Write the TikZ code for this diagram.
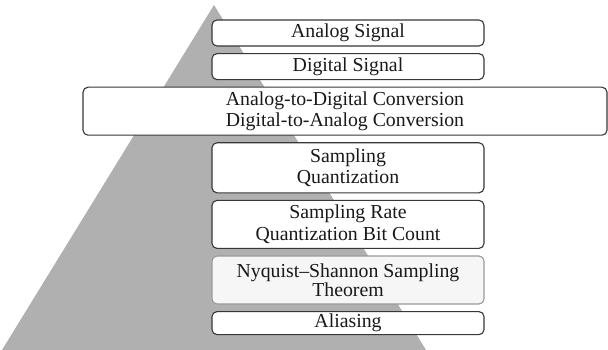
\documentclass[tikz,border=0pt]{standalone}
\usepackage{fontspec}
\setmainfont{Liberation Serif}
\usepackage{tikz}
\usetikzlibrary{positioning}
\definecolor{pyrgray}{RGB}{176,176,176}
\definecolor{edgegray}{RGB}{55,55,55}
\definecolor{softgray}{RGB}{246,246,246}
\tikzstyle{layer} = [rectangle, rounded corners=5pt, minimum width=272pt, inner sep=0pt, text centered, align=center, draw=edgegray, line width=1.1pt, fill=white, text=black!90, font=\fontsize{19.8}{21.5}\selectfont]
\tikzstyle{widelayer} = [layer, minimum width=524pt]
\tikzstyle{softlayer} = [layer, draw=black!40, fill=softgray, font=\fontsize{19.8}{18}\selectfont]

\begin{document}
\begin{tikzpicture}[x=1pt, y=-1pt, node distance=6.5pt]
\useasboundingbox (0,0) rectangle (608,350);

% pyramid behind the layers
\fill[pyrgray] (214,5) -- (426,350) -- (2,350) -- cycle;

\node (analog) [layer, minimum height=26pt] at (348,33) {Analog Signal};
\node (digital) [layer, minimum height=26pt, below=of analog] {Digital Signal};
\node (conv) [widelayer, minimum height=48pt, below=of digital, xshift=-3pt] {Analog-to-Digital Conversion\\Digital-to-Analog Conversion};
\node (sampq) [layer, minimum height=50pt, below=of conv, xshift=3pt] {Sampling\\Quantization};
\node (rate) [layer, minimum height=48pt, below=of sampq] {Sampling Rate\\Quantization Bit Count};
\node (nyquist) [softlayer, minimum height=48pt, below=of rate] {Nyquist–Shannon Sampling\\Theorem};
\node (alias) [layer, minimum height=23pt, below=of nyquist] {Aliasing};

\end{tikzpicture}
\end{document}
